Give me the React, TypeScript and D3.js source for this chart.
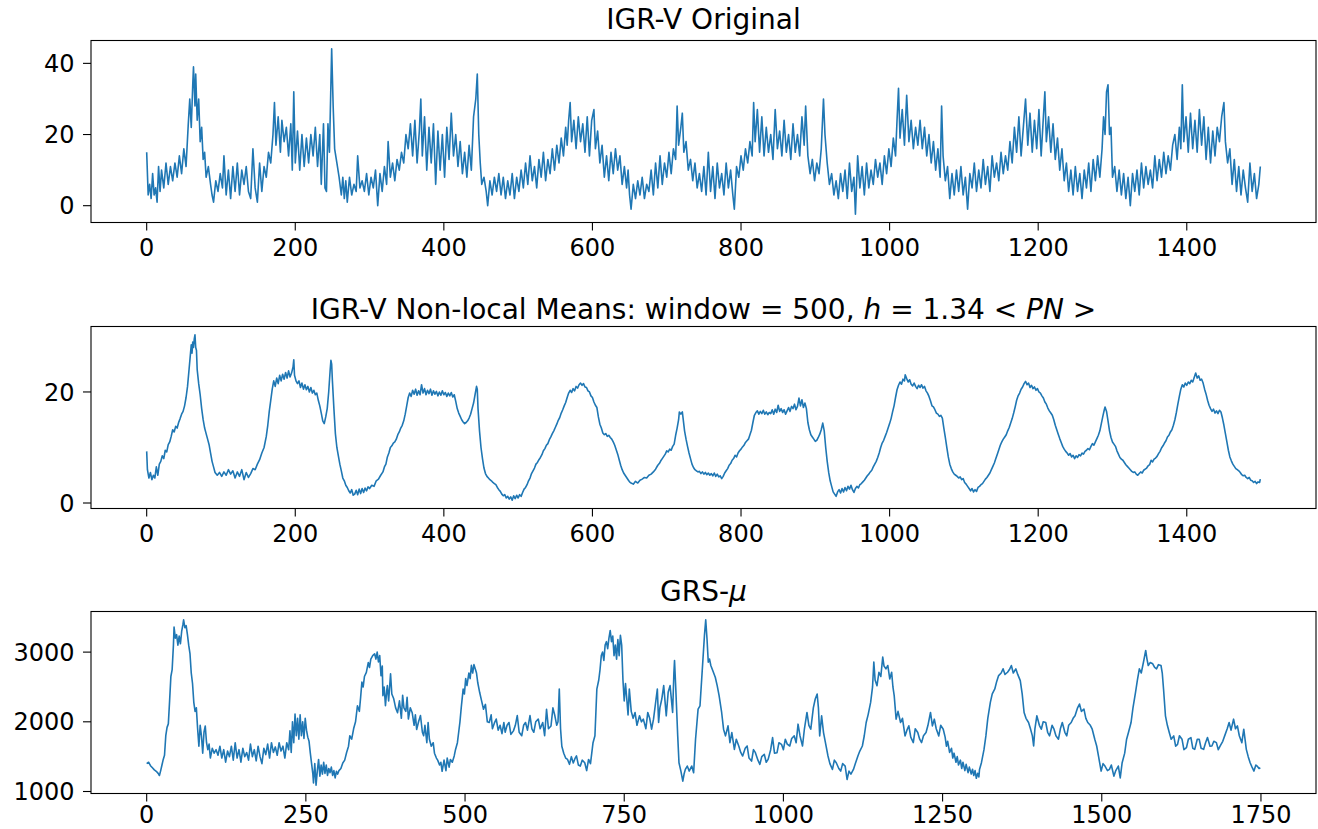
import React from "react";
import * as d3 from "d3";

// ---------- DATA ----------
const igrOriginal: [number, number][] = [
[0,15],[2,3],[4,6],[6,2],[8,9],[10,3],[12,5],[14,1],[16,11],[18,4],[20,10],[23,5],[26,12],[29,6],[32,11],[35,7],[38,12],[41,8],[44,14],[47,9],[50,16],[53,11],[56,23],[58,30],[60,22],[62,34],[63,39],[65,28],[66,37],[68,24],[70,30],[72,18],[74,22],[76,13],[78,15],[80,8],[83,11],[86,6],[88,3],[90,1],[93,7],[96,4],[99,9],[102,5],[104,14],[107,3],[110,10],[113,2],[116,11],[119,4],[122,12],[125,3],[128,10],[131,6],[134,11],[137,4],[140,2],[143,16],[146,5],[149,1],[152,12],[155,4],[158,11],[161,8],[164,15],[167,12],[170,20],[172,29],[174,17],[177,25],[180,15],[182,24],[185,18],[188,22],[191,14],[194,23],[196,10],[198,32],[200,12],[203,21],[206,10],[209,20],[212,11],[215,19],[218,12],[221,20],[224,14],[227,22],[230,11],[233,20],[235,6],[238,23],[240,5],[242,4],[244,23],[246,15],[249,44.1],[251,28],[253,16],[256,12],[259,8],[262,3],[264,8],[266,2],[268,7],[270,1],[273,8],[276,3],[279,6],[282,4],[284,14],[287,5],[290,7],[293,4],[296,9],[299,3],[302,8],[305,5],[308,10],[311,0],[314,9],[317,4],[320,11],[323,6],[325,18],[328,8],[331,12],[334,7],[337,13],[340,10],[343,15],[346,12],[349,20],[352,16],[355,23],[358,14],[361,24],[364,12],[367,21],[369,30],[371,14],[374,25],[377,10],[380,22],[383,12],[386,23],[389,6],[392,21],[395,10],[398,20],[401,8],[404,22],[407,13],[410,26],[413,14],[416,20],[419,11],[422,18],[425,9],[428,15],[431,8],[434,17],[437,10],[440,25],[443,30],[445,37],[447,20],[449,12],[451,6],[454,8],[457,4],[459,0],[462,7],[465,3],[468,8],[471,4],[474,9],[477,3],[480,8],[483,2],[486,7],[489,3],[492,9],[495,2],[498,8],[501,4],[504,10],[507,5],[510,12],[513,6],[516,14],[519,7],[522,11],[525,5],[528,13],[531,8],[534,15],[537,7],[540,13],[543,9],[546,16],[549,10],[552,17],[555,12],[558,19],[561,14],[564,22],[566,17],[568,24],[570,29],[572,18],[575,24],[578,16],[581,25],[584,18],[587,23],[590,15],[593,25],[596,14],[599,24],[602,27],[604,16],[607,21],[610,12],[613,17],[616,8],[619,14],[622,7],[625,15],[628,9],[631,16],[634,10],[637,14],[640,6],[643,11],[646,5],[648,10],[650,3],[652,-1],[655,6],[658,2],[661,7],[664,3],[667,8],[670,2],[673,6],[676,4],[679,10],[682,3],[685,12],[688,5],[691,14],[694,6],[697,12],[700,8],[703,15],[706,9],[709,16],[712,13],[714,28],[716,17],[719,22],[721,26],[723,15],[726,18],[729,10],[732,13],[735,7],[738,12],[741,5],[744,9],[747,4],[750,11],[753,3],[756,15],[759,4],[762,11],[765,2],[768,12],[771,5],[774,9],[777,3],[780,12],[783,5],[786,10],[789,3],[791,-1],[794,11],[797,8],[800,14],[803,10],[806,16],[809,12],[812,18],[815,14],[817,29],[819,18],[822,27],[825,15],[828,25],[831,14],[834,22],[837,15],[840,20],[843,13],[846,27],[849,16],[852,21],[855,14],[858,24],[861,15],[864,20],[867,13],[870,23],[873,15],[876,20],[879,14],[882,25],[885,17],[887,28],[890,14],[893,9],[896,13],[899,7],[902,12],[905,9],[908,16],[911,30],[913,20],[916,12],[919,6],[922,9],[925,3],[928,7],[931,2],[934,9],[937,4],[940,10],[943,2],[946,12],[949,4],[952,8],[954,-2.4],[957,14],[960,5],[963,11],[966,3],[969,12],[972,5],[975,10],[978,6],[981,13],[984,8],[987,12],[990,6],[993,14],[996,9],[999,16],[1002,11],[1005,19],[1008,14],[1010,24],[1012,33],[1014,19],[1017,27],[1020,17],[1023,31],[1026,18],[1029,24],[1032,16],[1035,22],[1038,17],[1041,24],[1044,16],[1047,22],[1050,14],[1053,20],[1056,12],[1059,18],[1062,10],[1065,16],[1068,8],[1070,28],[1072,14],[1075,7],[1078,11],[1081,2],[1084,9],[1087,3],[1090,10],[1093,4],[1096,11],[1099,3],[1102,8],[1105,-1],[1108,9],[1111,5],[1114,12],[1117,4],[1120,10],[1123,5],[1126,13],[1129,6],[1132,11],[1135,4],[1138,14],[1141,8],[1144,12],[1147,7],[1150,15],[1153,9],[1156,14],[1159,10],[1162,18],[1165,12],[1168,22],[1171,15],[1174,25],[1177,14],[1180,22],[1183,30],[1186,17],[1189,26],[1192,15],[1195,24],[1198,16],[1201,27],[1204,14],[1207,25],[1209,32],[1211,18],[1214,25],[1217,15],[1220,23],[1223,13],[1226,19],[1229,10],[1232,16],[1235,7],[1238,12],[1241,4],[1244,10],[1247,3],[1250,11],[1253,4],[1256,9],[1259,2],[1262,10],[1265,5],[1268,12],[1271,4],[1274,13],[1277,7],[1280,14],[1283,8],[1286,16],[1288,25],[1290,20],[1292,32],[1294,34],[1296,20],[1298,22],[1300,8],[1303,11],[1306,4],[1309,10],[1312,3],[1315,9],[1318,2],[1321,8],[1324,0],[1327,9],[1330,4],[1333,10],[1336,3],[1339,12],[1342,5],[1345,11],[1348,6],[1351,10],[1354,5],[1357,14],[1360,7],[1363,13],[1366,8],[1369,15],[1372,9],[1375,14],[1378,10],[1381,17],[1384,20],[1387,13],[1390,22],[1392,16],[1394,34],[1396,18],[1399,25],[1402,15],[1405,26],[1408,16],[1411,24],[1414,15],[1417,27],[1420,17],[1423,25],[1426,13],[1429,22],[1432,12],[1435,21],[1438,14],[1441,22],[1444,18],[1447,25],[1450,29],[1452,18],[1455,12],[1458,16],[1461,6],[1464,13],[1467,4],[1470,11],[1473,3],[1476,10],[1479,5],[1482,1],[1485,12],[1488,4],[1491,9],[1494,2],[1497,6],[1499,11]
];

const igrNonLocal: [number, number][] = [
[0,9.3],[1,6],[3,4.5],[5,5.5],[7,4.2],[9,5],[11,4.5],[13,6.5],[15,5],[17,7],[19,7.5],[21,8.5],[23,8],[25,9.5],[27,9.2],[29,10.5],[31,11],[33,12],[35,13.2],[37,12.8],[39,13.8],[41,13.5],[43,14.5],[45,15.2],[47,16],[49,16.5],[51,17.5],[53,19],[55,21],[57,24],[59,27],[60,28.5],[61,27],[62,29],[63,28],[64,29.5],[65,30.3],[66,28],[67,27.5],[68,24],[70,21.5],[72,19.5],[74,17],[76,15],[78,13.5],[80,12.5],[82,11.5],[84,10.5],[86,9],[88,7.5],[90,6.5],[92,5.5],[95,5],[98,5.5],[101,4.8],[104,5.6],[107,5],[110,6],[113,5.2],[116,5.8],[119,4.5],[122,5.6],[125,4.8],[128,6],[131,4.2],[134,5.5],[137,4.6],[140,5.3],[143,6.2],[146,6],[149,7],[152,7.8],[155,9],[158,10],[161,12],[163,14],[165,16.5],[167,18.5],[169,20.5],[171,22],[173,21],[175,22.5],[177,21.5],[179,23],[181,22],[183,23.2],[185,22.3],[187,23.5],[189,22.5],[191,23.8],[193,22.7],[195,23.4],[197,24.5],[198,25.8],[199,23],[201,22],[203,21.5],[205,22],[207,20.8],[209,21.6],[211,20.5],[213,21.3],[215,20.4],[217,21],[219,20],[221,20.8],[223,19.8],[225,20.3],[227,19.5],[229,19.8],[231,18.5],[233,17.5],[235,16.2],[237,14.8],[239,14.3],[241,15.5],[243,17],[245,20],[247,24],[248,25.7],[249,25],[250,22],[252,17],[254,12.5],[256,10],[258,8.5],[260,7],[262,5.8],[264,4.5],[266,4],[268,3.2],[270,2.8],[272,2.2],[274,1.8],[276,2.4],[278,1.4],[280,1.6],[282,2.3],[284,1.5],[286,2.5],[288,1.7],[290,2.6],[292,1.9],[294,2.7],[296,2.2],[298,2.9],[300,2.6],[303,3.2],[306,3],[309,4],[312,4.3],[315,5],[318,5.6],[320,6.5],[322,7],[324,8.3],[326,9],[328,10],[330,10.3],[332,10.8],[334,11],[336,11.5],[338,12.3],[340,12.8],[342,13.5],[344,14],[346,14.8],[348,16],[350,17.5],[352,19],[354,19.8],[356,19.2],[358,20.3],[360,19.6],[362,20.5],[364,19.4],[366,20.2],[368,19.5],[370,21.3],[372,19.8],[374,20.6],[376,19.5],[378,20.3],[380,19.7],[382,20.5],[384,19.4],[386,20.2],[388,19.6],[390,20.1],[392,19.3],[394,20],[396,19.4],[398,20.2],[400,19.5],[402,19.9],[404,19.2],[406,19.8],[408,19.3],[410,19.9],[412,19.1],[414,19.5],[416,18.3],[418,17],[420,16.2],[422,15.6],[424,15],[426,14.6],[428,14.3],[430,14.5],[432,14.8],[434,15.3],[436,16],[438,17],[440,18],[442,19.5],[444,21],[445,20.5],[446,17],[448,13],[450,10],[452,8],[454,6.3],[456,5.3],[458,4.8],[460,4.5],[462,4.2],[464,4],[466,3.7],[468,3.5],[470,3.3],[472,2.8],[474,2.4],[476,2.1],[478,1.6],[480,1.3],[482,1.5],[484,0.9],[486,1.2],[488,0.7],[490,1.1],[492,0.5],[494,1.3],[496,0.8],[498,1.4],[500,0.9],[502,1.5],[504,1.2],[506,1.9],[508,2.5],[510,2.8],[512,3.3],[514,4],[516,4.5],[518,5.3],[520,5.8],[522,6.3],[524,7],[526,7.3],[528,7.8],[530,8.2],[532,8.7],[534,9.4],[536,9.8],[538,10.4],[540,10.7],[542,11.4],[544,11.9],[546,12.5],[548,13],[550,13.6],[552,14.2],[554,14.9],[556,15.4],[558,16.2],[560,16.8],[562,17.5],[564,18.1],[566,19],[568,19.8],[570,20.3],[572,19.9],[574,20.6],[576,20.2],[578,21],[580,20.7],[582,21.3],[584,21.6],[586,21.2],[588,21.5],[590,20.9],[592,20.8],[594,20.2],[596,20],[598,19.3],[600,19],[602,18.2],[604,17.6],[606,17.2],[608,15.5],[610,14.2],[612,13.5],[614,12.6],[616,12.3],[618,12.5],[620,12],[622,12.2],[624,11.8],[626,11.5],[628,11],[630,10.4],[632,9.6],[634,8.8],[636,7.8],[638,6.8],[640,6],[642,5.4],[644,5],[646,4.6],[648,4.2],[650,3.8],[652,3.6],[655,3.4],[658,3.9],[661,3.6],[664,4.1],[667,4.3],[670,4.6],[673,4.5],[676,5],[679,5.2],[682,5.6],[685,6.1],[688,6.8],[690,7.1],[692,7.6],[694,8],[696,8.4],[698,8.8],[700,9.4],[702,9.2],[704,9.7],[706,9.5],[708,10.2],[710,10.6],[712,12.2],[714,13.5],[716,15],[717,16.4],[719,16],[721,16.4],[722,15.3],[724,13],[726,11.5],[728,10.2],[730,9],[732,8],[734,7],[736,6.4],[738,6],[740,5.8],[742,5.6],[744,5.7],[746,5.3],[748,5.6],[750,5.2],[752,5.5],[754,5.1],[756,5.4],[758,5],[760,5.3],[762,4.9],[764,5.4],[766,4.8],[768,5.2],[770,4.7],[772,4.9],[774,4.4],[776,4.8],[778,5.4],[780,5.8],[782,6.2],[784,6.8],[786,7.1],[788,7.7],[790,8],[792,8.6],[794,8.3],[796,9],[798,9.4],[800,9.7],[802,10.1],[804,10.4],[806,10.9],[808,11.2],[810,11.5],[812,12.3],[814,13.1],[816,14.5],[818,15.8],[820,16.3],[822,16.6],[824,16],[826,16.5],[828,16.1],[830,16.7],[832,16],[834,16.4],[836,15.9],[838,16.3],[840,16.1],[842,16.8],[844,16],[846,16.9],[848,16.3],[850,17.6],[852,16.5],[854,17],[856,16.3],[858,16.8],[860,16],[862,16.6],[864,17.2],[866,16.5],[868,17.4],[870,17],[872,17.8],[874,16.8],[876,17.4],[878,18.9],[880,17.5],[882,18.6],[884,17.2],[886,18],[888,17],[890,14.5],[892,13.2],[894,12.3],[896,11.9],[898,11.5],[900,11.1],[902,11.3],[904,11.8],[906,12.4],[908,13.2],[910,14.4],[912,13],[914,10],[916,7.5],[918,5.5],[920,4],[922,3],[924,2],[926,1.6],[928,1.2],[930,2],[932,2.4],[934,1.8],[936,2.6],[938,2],[940,2.8],[942,2.2],[944,3],[946,2.5],[948,3.2],[950,2.4],[952,1.9],[954,2.6],[956,3],[958,2.7],[960,3.3],[962,3.5],[964,3.8],[966,4.1],[968,4.5],[970,4.9],[972,5.2],[974,5.6],[976,5.9],[978,6.5],[980,7],[982,7.5],[984,8.2],[986,9],[988,10],[990,10.8],[992,11.3],[994,12],[996,12.7],[998,13.5],[1000,14.3],[1002,15.2],[1004,16.4],[1006,17.5],[1008,19],[1010,20.4],[1012,21.2],[1014,21.8],[1016,21.4],[1018,22.3],[1020,22],[1021,23.1],[1023,22.4],[1025,21.8],[1027,22.2],[1029,21.4],[1031,21.1],[1033,21.6],[1035,21],[1037,20.6],[1039,21.2],[1041,20.8],[1043,21.3],[1045,20.7],[1047,21],[1049,20.2],[1051,19.8],[1053,19.2],[1055,18.4],[1057,17.5],[1059,17.3],[1061,16.8],[1063,16.2],[1065,16],[1067,15.6],[1069,15.8],[1071,15.3],[1073,13.5],[1075,11.8],[1077,10],[1079,8.3],[1081,7],[1083,6.2],[1085,5.6],[1087,5.2],[1089,5],[1091,4.8],[1093,4.5],[1095,4.7],[1097,4.2],[1099,4.4],[1101,3.7],[1103,3.4],[1105,3],[1107,2.6],[1109,2.2],[1111,2.6],[1113,2],[1115,2.4],[1117,2.1],[1119,2.8],[1121,3],[1123,3.3],[1125,3.5],[1127,3.9],[1129,4.3],[1131,4.6],[1133,5],[1135,5.4],[1137,6],[1139,6.6],[1141,7.2],[1143,8],[1145,8.8],[1147,9.6],[1149,10.4],[1151,11],[1153,11.5],[1155,11.9],[1157,12.3],[1159,13],[1161,13.6],[1163,14.4],[1165,15.2],[1167,16.2],[1169,17.3],[1171,18.5],[1173,19.3],[1175,19.8],[1177,20.5],[1179,20.9],[1181,21.5],[1183,21.9],[1185,21.3],[1187,21.6],[1189,20.8],[1191,21.2],[1193,20.6],[1195,20.9],[1197,20.3],[1199,20.6],[1201,20],[1203,19.8],[1205,19.3],[1207,18.9],[1209,18.2],[1211,17.8],[1213,17.1],[1215,16.6],[1217,16.2],[1219,15.8],[1221,15],[1223,14],[1225,13.2],[1227,12.4],[1229,11.6],[1231,10.9],[1233,10.2],[1235,9.7],[1237,9.3],[1239,9],[1241,8.6],[1243,8.9],[1245,8.3],[1247,8.6],[1249,8],[1251,8.5],[1253,8.2],[1255,8.7],[1257,8.5],[1259,9],[1261,8.8],[1263,9.3],[1265,9.5],[1267,9.8],[1269,9.6],[1271,10.2],[1273,10.7],[1275,10.4],[1277,11],[1279,11.6],[1281,12.2],[1283,13],[1285,14.3],[1287,15.6],[1289,16.8],[1290,17.3],[1292,16.5],[1294,14.8],[1296,13],[1298,11.8],[1300,11],[1302,10.6],[1304,10.2],[1306,9.4],[1308,8.8],[1310,8.2],[1312,7.9],[1314,7.7],[1316,7.3],[1318,6.9],[1320,6.6],[1322,6.3],[1324,6],[1326,5.7],[1328,5.5],[1330,5.6],[1332,5.2],[1334,5],[1336,5.3],[1338,5.6],[1340,5.4],[1342,5.9],[1344,6.1],[1346,6.3],[1348,6.7],[1350,6.9],[1352,7.7],[1354,7.4],[1356,7.9],[1358,8.1],[1360,8.4],[1362,8.9],[1364,9.3],[1366,9.9],[1368,10.3],[1370,10.8],[1372,11.2],[1374,11.9],[1376,12.2],[1378,12.8],[1380,13.2],[1382,14],[1384,15],[1386,16.3],[1388,17.8],[1390,19.2],[1392,20.5],[1394,21.3],[1396,20.9],[1398,21.6],[1400,21.2],[1402,21.8],[1404,21.5],[1406,22.1],[1408,21.8],[1410,22.6],[1412,23.4],[1414,22.5],[1416,22.9],[1418,22.1],[1420,22.3],[1422,21.6],[1424,20.5],[1426,19.6],[1428,18.5],[1430,17.6],[1432,17],[1434,16.5],[1436,16.9],[1438,16.2],[1440,16.6],[1442,16.1],[1444,16.7],[1446,16.4],[1448,15.3],[1450,14],[1452,12.5],[1454,11],[1456,9.5],[1458,8.3],[1460,7.6],[1462,7],[1464,6.6],[1466,6.2],[1468,6],[1470,5.8],[1472,5.5],[1474,5.1],[1476,4.9],[1478,5],[1480,4.6],[1482,4.4],[1484,4.6],[1486,4.1],[1488,4],[1490,3.7],[1492,3.9],[1494,3.5],[1496,3.8],[1498,3.7],[1499,4.3]
];

const grsMu: [number, number][] = [
[0,1400],[3,1420],[6,1370],[9,1340],[12,1310],[15,1290],[18,1260],[20,1230],[22,1300],[24,1380],[26,1460],[28,1520],[30,1800],[32,1920],[34,1970],[36,2300],[38,2650],[40,2750],[42,3100],[43,3360],[45,3200],[47,3250],[49,3100],[51,3230],[53,3120],[55,3300],[57,3400],[58,3464],[60,3350],[62,3380],[64,3250],[66,3100],[68,2980],[70,2700],[72,2550],[74,2280],[76,2150],[78,2200],[80,1900],[82,1650],[84,1950],[86,1800],[88,1550],[90,1850],[92,1940],[94,1700],[96,1600],[98,1680],[100,1480],[103,1620],[106,1550],[109,1600],[112,1520],[115,1650],[118,1480],[121,1600],[124,1420],[127,1580],[130,1500],[133,1650],[136,1450],[139,1700],[142,1480],[145,1600],[148,1420],[151,1620],[154,1500],[157,1560],[160,1450],[163,1680],[166,1500],[169,1600],[172,1440],[175,1650],[178,1500],[181,1400],[184,1620],[187,1530],[190,1680],[193,1480],[196,1700],[199,1560],[202,1640],[205,1520],[208,1700],[211,1580],[214,1650],[217,1480],[220,1700],[223,1600],[225,1870],[227,1560],[229,2000],[231,1700],[233,2110],[235,1800],[237,2050],[239,1750],[241,2100],[243,1800],[245,2000],[247,1760],[249,2050],[251,1880],[253,1780],[255,1720],[257,1550],[259,1400],[261,1250],[262,1124],[264,1400],[266,1090],[268,1300],[270,1460],[272,1220],[274,1380],[276,1250],[278,1420],[280,1260],[282,1380],[284,1230],[286,1330],[288,1270],[290,1350],[292,1230],[294,1300],[296,1196],[298,1290],[300,1250],[302,1300],[305,1330],[308,1410],[311,1450],[314,1560],[317,1650],[319,1800],[322,1750],[325,1900],[328,2000],[331,2230],[334,2150],[336,2350],[338,2570],[340,2500],[342,2650],[345,2710],[348,2850],[350,2780],[352,2900],[355,2950],[358,2976],[360,2900],[362,3000],[364,2860],[366,2950],[368,2660],[370,2800],[371,2375],[373,2500],[375,2230],[377,2450],[378,2520],[380,2300],[383,2690],[385,2400],[388,2330],[391,2200],[394,2130],[397,2300],[400,2050],[402,2380],[404,2200],[407,2150],[409,2350],[411,2040],[414,2200],[417,2130],[420,1950],[422,2100],[424,1890],[427,2000],[430,2090],[433,1850],[435,1800],[437,1950],[440,1700],[442,1990],[444,1750],[447,1650],[450,1700],[452,1550],[455,1480],[457,1450],[460,1380],[462,1420],[464,1290],[467,1450],[470,1300],[472,1480],[475,1350],[477,1460],[480,1420],[483,1510],[485,1600],[488,1700],[490,1850],[492,2000],[494,2200],[497,2470],[499,2400],[501,2620],[503,2520],[506,2700],[508,2620],[510,2810],[512,2700],[514,2820],[516,2760],[518,2700],[520,2560],[523,2420],[526,2300],[529,2180],[532,2250],[535,2000],[538,1990],[541,2100],[543,1900],[546,1980],[549,2040],[552,1880],[555,1950],[558,1830],[561,1990],[563,1850],[566,1950],[569,1990],[572,1820],[576,1870],[579,1950],[582,2090],[585,1850],[589,1800],[592,1950],[595,1990],[598,1880],[602,2090],[605,1900],[608,1850],[611,2000],[615,2040],[618,1900],[622,1990],[625,1800],[628,2180],[631,1900],[635,1940],[638,2200],[641,2090],[644,1950],[646,2000],[648,2470],[650,1900],[652,1650],[655,1550],[658,1480],[661,1460],[664,1390],[667,1500],[670,1410],[673,1480],[675,1510],[678,1380],[681,1365],[684,1450],[688,1413],[691,1300],[694,1460],[697,1400],[701,1700],[704,1800],[707,2470],[710,2600],[712,2750],[714,2950],[716,3000],[718,2880],[720,3100],[722,3150],[724,3050],[726,3200],[728,3310],[730,3150],[732,3230],[734,2950],[736,3100],[738,2900],[740,3180],[742,2950],[744,3240],[746,3100],[748,2600],[750,2300],[752,2550],[754,2330],[756,2100],[758,2470],[761,2150],[764,2050],[767,2134],[770,1950],[774,2086],[777,2000],[780,2038],[784,1900],[787,2134],[790,2050],[793,1894],[796,2038],[800,2327],[802,2471],[804,1990],[806,2200],[809,2327],[812,2519],[816,2086],[819,2423],[822,2519],[826,2134],[828,2700],[829,2880],[831,2471],[834,1798],[836,1413],[839,1293],[842,1148],[844,1250],[846,1317],[849,1365],[852,1293],[856,1365],[859,1269],[862,1750],[866,2182],[869,2230],[872,2663],[876,3240],[878,3464],[880,3192],[882,2856],[884,2900],[886,2808],[889,2735],[893,2639],[896,2519],[899,2375],[903,2134],[906,1894],[909,1798],[913,1942],[916,1701],[919,1846],[923,1605],[926,1750],[930,1650],[933,1560],[936,1509],[940,1620],[943,1653],[946,1480],[950,1437],[953,1600],[956,1557],[960,1450],[963,1389],[966,1500],[970,1533],[973,1420],[976,1461],[980,1600],[983,1774],[986,1550],[990,1557],[993,1700],[997,1677],[1000,1600],[1003,1750],[1006,1680],[1010,1653],[1013,1760],[1017,1798],[1020,1700],[1023,1966],[1026,1800],[1030,1653],[1033,1900],[1037,2134],[1040,1950],[1043,1894],[1047,2200],[1050,2327],[1053,2399],[1055,2200],[1057,1798],[1060,2086],[1063,1846],[1066,1700],[1070,1509],[1073,1400],[1077,1317],[1080,1450],[1083,1413],[1087,1330],[1090,1293],[1093,1400],[1097,1365],[1100,1172],[1103,1293],[1106,1250],[1110,1317],[1113,1400],[1117,1509],[1120,1580],[1124,1653],[1127,1800],[1130,1990],[1133,2100],[1137,2278],[1140,2500],[1142,2856],[1144,2600],[1147,2519],[1150,2711],[1153,2650],[1156,2928],[1158,2800],[1161,2760],[1164,2808],[1167,2615],[1170,2711],[1172,2500],[1174,2375],[1177,2038],[1180,2150],[1184,1990],[1187,2050],[1191,1798],[1194,1880],[1197,1942],[1200,1780],[1204,1701],[1207,1900],[1211,1846],[1214,1750],[1217,1701],[1220,1800],[1224,1846],[1227,1950],[1231,2134],[1234,1942],[1237,2038],[1240,1900],[1244,1798],[1247,1950],[1251,1894],[1254,1780],[1256,1650],[1258,1720],[1261,1560],[1264,1620],[1266,1480],[1268,1550],[1271,1420],[1273,1500],[1275,1380],[1278,1450],[1280,1330],[1282,1420],[1285,1300],[1287,1390],[1290,1270],[1292,1350],[1295,1250],[1297,1320],[1299,1230],[1301,1300],[1303,1190],[1305,1260],[1307,1210],[1308,1317],[1311,1413],[1315,1600],[1318,1798],[1321,2050],[1325,2278],[1328,2400],[1332,2471],[1335,2580],[1338,2663],[1342,2700],[1345,2760],[1348,2680],[1352,2711],[1355,2750],[1358,2808],[1361,2700],[1365,2760],[1368,2680],[1372,2591],[1375,2400],[1378,2134],[1381,2050],[1385,1990],[1388,1900],[1391,1798],[1393,1653],[1395,1900],[1398,2086],[1402,1950],[1405,1894],[1408,2000],[1412,1990],[1415,1850],[1418,1798],[1422,1950],[1425,1894],[1428,1800],[1432,1750],[1435,1900],[1438,1990],[1442,1850],[1445,1798],[1448,1950],[1452,1990],[1455,2050],[1458,2086],[1462,2200],[1465,2255],[1468,2150],[1472,2182],[1475,2050],[1478,1990],[1482,1950],[1485,1894],[1489,1750],[1492,1653],[1495,1500],[1499,1293],[1502,1400],[1505,1365],[1509,1300],[1512,1317],[1515,1380],[1519,1220],[1522,1300],[1526,1365],[1529,1196],[1532,1413],[1536,1550],[1539,1750],[1542,1850],[1546,1990],[1549,2200],[1553,2423],[1556,2600],[1559,2760],[1562,2700],[1566,2880],[1569,3024],[1571,2900],[1573,2808],[1576,2850],[1580,2832],[1583,2780],[1586,2760],[1589,2820],[1593,2808],[1595,2700],[1597,2471],[1600,2086],[1603,1950],[1606,1846],[1609,1750],[1613,1798],[1616,1650],[1619,1677],[1622,1800],[1626,1750],[1629,1600],[1633,1629],[1636,1750],[1640,1774],[1643,1620],[1646,1605],[1650,1750],[1653,1750],[1656,1620],[1660,1605],[1663,1700],[1666,1774],[1670,1650],[1673,1653],[1676,1720],[1680,1701],[1683,1600],[1686,1653],[1690,1720],[1693,1798],[1697,1900],[1700,1990],[1703,1880],[1707,2038],[1710,1900],[1713,1942],[1716,1800],[1720,1701],[1723,1894],[1727,1605],[1730,1500],[1733,1413],[1736,1350],[1739,1293],[1742,1380],[1744,1365],[1747,1330],[1749,1341]
];

const xTicksIgr = [0, 200, 400, 600, 800, 1000, 1200, 1400];
const xTicksGrs = [0, 250, 500, 750, 1000, 1250, 1500, 1750];
const yTicksOriginal = [0, 20, 40];
const yTicksNonLocal = [0, 20];
const yTicksGrs = [1000, 2000, 3000];

// ---------- LAYOUT ----------
const W = 1318;
const H = 829;
const LEFT = 91;
const RIGHT = 1316;
const PH = 182;
const TICK = 8;
const FONT = "DejaVu Sans, Verdana, sans-serif";
const TICK_FS = 24;
const TITLE_FS = 28;
const BLUE = "#1f77b4";

type PanelProps = {
  data: [number, number][];
  top: number;
  xTicks: number[];
  yTicks: number[];
  title: React.ReactNode;
  titleY: number;
  xLabelOffset: number;
};

function Panel({ data, top, xTicks, yTicks, title, titleY, xLabelOffset }: PanelProps) {
  const [x0, x1] = d3.extent(data, (d) => d[0]) as [number, number];
  const [y0, y1] = d3.extent(data, (d) => d[1]) as [number, number];
  const xr = x1 - x0;
  const yr = y1 - y0;
  const bottom = top + PH;
  const x = d3.scaleLinear().domain([x0 - 0.05 * xr, x1 + 0.05 * xr]).range([LEFT, RIGHT]);
  const y = d3.scaleLinear().domain([y0 - 0.05 * yr, y1 + 0.05 * yr]).range([bottom, top]);
  const line = d3
    .line<[number, number]>()
    .x((d) => x(d[0]))
    .y((d) => y(d[1]));
  return (
    <g>
      <text
        x={(LEFT + RIGHT) / 2}
        y={titleY}
        textAnchor="middle"
        fontFamily={FONT}
        fontSize={TITLE_FS}
        fill="#000"
      >
        {title}
      </text>
      <path d={line(data) || ""} fill="none" stroke={BLUE} strokeWidth={1.6} strokeLinejoin="round" />
      <rect x={LEFT} y={top} width={RIGHT - LEFT} height={PH} fill="none" stroke="#000" strokeWidth={1.1} />
      {xTicks.map((t) => (
        <g key={"x" + t}>
          <line x1={x(t)} x2={x(t)} y1={bottom} y2={bottom + TICK} stroke="#000" strokeWidth={1.1} />
          <text
            x={x(t)}
            y={bottom + xLabelOffset}
            textAnchor="middle"
            fontFamily={FONT}
            fontSize={TICK_FS}
            fill="#000"
          >
            {t}
          </text>
        </g>
      ))}
      {yTicks.map((t) => (
        <g key={"y" + t}>
          <line x1={LEFT - TICK} x2={LEFT} y1={y(t)} y2={y(t)} stroke="#000" strokeWidth={1.1} />
          <text
            x={LEFT - TICK - 8.5}
            y={y(t)}
            dy="0.36em"
            textAnchor="end"
            fontFamily={FONT}
            fontSize={TICK_FS}
            fill="#000"
          >
            {t}
          </text>
        </g>
      ))}
    </g>
  );
}

export default function App() {
  return (
    <svg
      width={W}
      height={H}
      viewBox={`0 0 ${W} ${H}`}
      style={{ position: "absolute", left: 0, top: 0, background: "#fff" }}
    >
      <rect x={0} y={0} width={W} height={H} fill="#fff" />
      <Panel
        data={igrOriginal}
        top={40.5}
        xTicks={xTicksIgr}
        yTicks={yTicksOriginal}
        title="IGR-V Original"
        titleY={28.7}
        xLabelOffset={33}
      />
      <Panel
        data={igrNonLocal}
        top={326.5}
        xTicks={xTicksIgr}
        yTicks={yTicksNonLocal}
        title={
          <>
            <tspan>IGR-V Non-local Means: window = 500, </tspan>
            <tspan fontStyle="italic">h</tspan>
            <tspan> = 1.34 &lt; </tspan>
            <tspan fontStyle="italic">PN</tspan>
            <tspan> &gt;</tspan>
          </>
        }
        titleY={318.5}
        xLabelOffset={33}
      />
      <Panel
        data={grsMu}
        top={611.5}
        xTicks={xTicksGrs}
        yTicks={yTicksGrs}
        title={
          <>
            <tspan>GRS-</tspan>
            <tspan fontStyle="italic">μ</tspan>
          </>
        }
        titleY={601}
        xLabelOffset={29.5}
      />
    </svg>
  );
}
